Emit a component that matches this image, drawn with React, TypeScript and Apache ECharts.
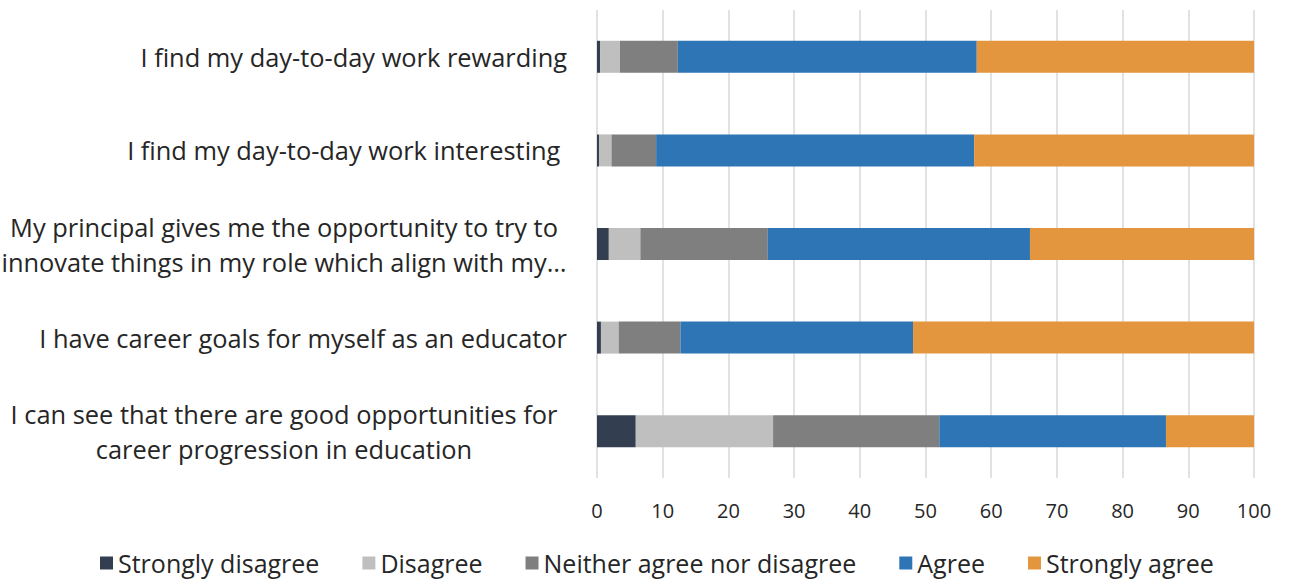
import React, { useEffect, useRef } from "react";
import * as echarts from "echarts";

const categories = [
  "I can see that there are good opportunities for\ncareer progression in education",
  "I have career goals for myself as an educator",
  "My principal gives me the opportunity to try to\ninnovate things in my role which align with my…",
  "I find my day-to-day work interesting ",
  "I find my day-to-day work rewarding",
];
const seriesNames = ["Strongly disagree", "Disagree", "Neither agree nor disagree", "Agree", "Strongly agree"];
const stronglyDisagree = [5.9, 0.6, 1.8, 0.3, 0.5];
const disagree = [20.9, 2.7, 4.8, 1.9, 3.0];
const neither = [25.3, 9.4, 19.4, 6.8, 8.8];
const agree = [34.5, 35.4, 39.9, 48.4, 45.5];
const stronglyAgree = [13.4, 51.9, 34.1, 42.6, 42.2];
const colors = ["#333f50", "#bfbfbf", "#7f7f7f", "#2e75b6", "#e3963e"];
const ticks = [0, 10, 20, 30, 40, 50, 60, 70, 80, 90, 100];

export default function App() {
  const ref = useRef<HTMLDivElement>(null);
  useEffect(() => {
    const chart = echarts.init(ref.current!, null, { renderer: "svg" });
    const values = [stronglyDisagree, disagree, neither, agree, stronglyAgree];
    const font = "'Open Sans', 'Noto Sans', sans-serif";
    chart.setOption({
      animation: false,
      textStyle: { fontFamily: font },
      grid: { left: 597, right: 36, top: 10, bottom: 101, containLabel: false, outerBoundsMode: "none" },
      legend: {
        top: 549,
        left: 100,
        padding: 0,
        itemWidth: 13,
        itemHeight: 13,
        itemGap: 43,
        icon: "rect",
        textStyle: { fontSize: 25, lineHeight: 28, color: "#262626", fontFamily: font },
        data: seriesNames,
      },
      xAxis: {
        type: "value",
        min: 0,
        max: 100,
        interval: 10,
        axisLine: { show: false },
        axisTick: { show: false },
        splitLine: { show: true, lineStyle: { color: "#d9d9d9", width: 1.5 } },
        axisLabel: {
          fontSize: 20,
          color: "#262626",
          margin: 22,
          formatter: (v: number) => (ticks.includes(v) ? String(v) : ""),
        },
      },
      yAxis: {
        type: "category",
        data: categories,
        axisLine: { show: false },
        axisTick: { show: false },
        axisLabel: {
          margin: 30,
          fontSize: 25.4,
          color: "#262626",
          lineHeight: 35,
          formatter: (v: string) => {
            if (v.includes("\n")) {
              return v
                .split("\n")
                .map((l) => `{c|${l}}`)
                .join("\n");
            }
            return v;
          },
          rich: {
            c: { width: 566, align: "center", fontSize: 25.4, lineHeight: 35, color: "#262626", fontFamily: font },
          },
        },
      },
      series: seriesNames.map((name, i) => ({
        name,
        type: "bar",
        stack: "total",
        barWidth: 32,
        data: values[i],
        itemStyle: { color: colors[i] },
      })),
    });
    return () => chart.dispose();
  }, []);
  return <div ref={ref} style={{ width: 1290, height: 579, position: "absolute", left: 0, top: 0 }} />;
}
